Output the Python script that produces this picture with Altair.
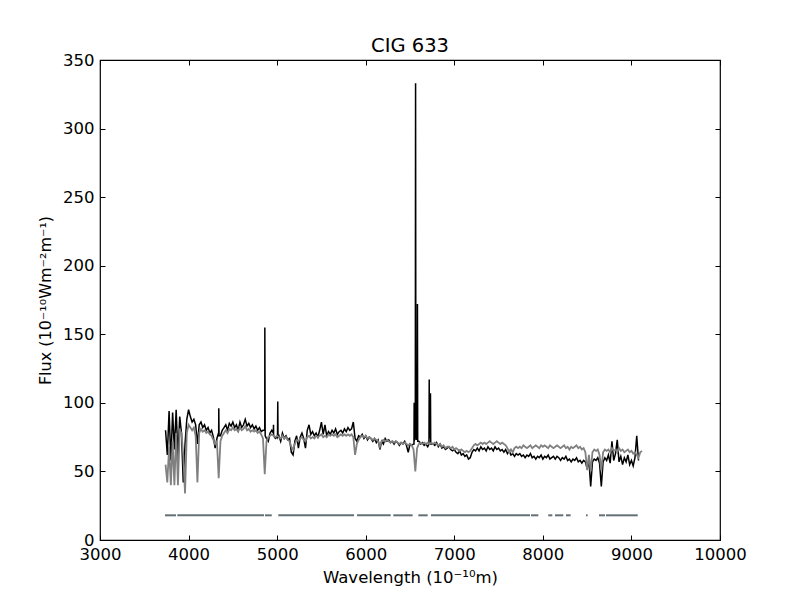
import altair as alt
import pandas as pd

TITLE = "CIG 633"
X_TITLE = "Wavelength (10⁻¹⁰m)"
Y_TITLE = "Flux (10⁻¹⁰Wm⁻²m⁻¹)"

# wavelength sampling of the two spectra (Angstrom)
OBS_START = 3740
MODEL_START = 3740
STEP = 20

obs_flux = [
    80, 62, 94, 58, 93, 66, 95, 60, 90, 78,
    42, 70, 88, 95, 90, 86, 88, 84, 70, 84,
    86, 82, 84, 80, 82, 78, 80, 75, 67, 74,
    78, 76, 80, 82, 84, 80, 85, 83, 86, 82,
    84, 80, 86, 82, 84, 88, 83, 85, 82, 84,
    81, 83, 80, 82, 79, 80, 80, 74, 72, 78,
    80, 78, 74, 75, 76, 72, 78, 74, 76, 73,
    74, 64, 62, 72, 76, 67, 75, 78, 74, 67,
    80, 84, 77, 79, 76, 78, 75, 80, 86, 77,
    84, 76, 79, 77, 80, 78, 81, 77, 79, 80,
    78, 81, 79, 82, 80, 81, 86, 74, 72, 76,
    75, 77, 74, 76, 73, 75, 74, 72, 74, 71,
    73, 66, 72, 70, 74, 72, 73, 71, 72, 70,
    72, 71, 69, 71, 70, 72, 69, 64, 70, 69,
    70, 100, 75, 72, 70, 71, 69, 70, 68, 105,
    70, 70, 69, 71, 68, 70, 67, 68, 66, 67,
    68, 66, 65, 66, 64, 63, 65, 62, 63, 61,
    62, 59, 60, 64, 66, 65, 67, 65, 68, 66,
    67, 65, 68, 66, 67, 65, 68, 66, 67, 65,
    66, 64, 66, 63, 65, 62, 63, 61, 63, 62,
    63, 61, 62, 60, 62, 61, 63, 60, 61, 59,
    61, 60, 62, 59, 61, 60, 62, 59, 60, 61,
    59, 61, 60, 58, 60, 59, 61, 58, 59, 57,
    59, 58, 60, 57, 58, 56, 58, 57, 52, 58,
    39, 57, 59, 58, 60, 56, 39, 57, 60, 58,
    62, 56, 72, 58, 63, 73, 57, 61, 55, 60,
    57, 62, 55, 58, 54, 60, 76, 58,
]

# narrow emission lines of the observed spectrum (Hgamma, Hbeta, [OIII], [NII], Halpha, [SII])
line_wave = [4338, 4341, 4344, 4857, 4861, 4865, 4957, 4959, 4961, 5004, 5007, 5010,
             6545, 6547, 6549, 6551, 6553, 6555, 6557, 6563, 6566, 6568, 6570, 6572,
             6574, 6576, 6578, 6582, 6584, 6587,
             6714, 6717, 6719, 6722, 6724, 6726, 6728, 6731, 6734]
line_flux = [78, 96, 76, 80, 155, 76, 78, 84, 76, 75, 101, 75,
             70, 100, 72, 100, 74, 100, 73, 333, 102, 75, 100, 74,
             100, 73, 100, 100, 172, 72,
             70, 117, 75, 75, 105, 74, 106, 107, 70]

# model spectrum (gray), 3740 .. 9120
model_flux = [
    55, 42, 68, 40, 72, 40, 78, 40, 80, 78,
    62, 34, 78, 84, 82, 80, 82, 76, 42, 78,
    81, 79, 80, 78, 79, 77, 76, 73, 70, 72,
    45, 72, 76, 78, 80, 78, 81, 80, 82, 80,
    81, 79, 82, 80, 81, 83, 80, 81, 79, 80,
    79, 80, 78, 79, 77, 74, 48, 72, 75, 76,
    77, 76, 75, 76, 75, 74, 76, 74, 75, 73,
    72, 68, 66, 70, 73, 72, 74, 75, 73, 72,
    75, 76, 74, 75, 74, 76, 75, 76, 77, 75,
    76, 75, 77, 76, 77, 76, 77, 75, 76, 77,
    76, 77, 76, 77, 76, 77, 75, 62, 70, 73,
    75, 76, 75, 76, 74, 75, 74, 73, 74, 73,
    72, 68, 72, 73, 72, 73, 72, 71, 72, 71,
    72, 71, 70, 71, 70, 71, 70, 69, 70, 69,
    66, 50, 67, 70, 71, 70, 71, 70, 71, 70,
    71, 70, 71, 70, 69, 70, 68, 69, 67, 68,
    68, 67, 68, 66, 67, 66, 65, 66, 65, 64,
    65, 64, 65, 67, 69, 70, 69, 70, 71, 70,
    71, 70, 71, 72, 71, 70, 71, 72, 71, 70,
    71, 70, 69, 67, 64, 66, 64, 67, 68, 67,
    68, 67, 69, 68, 67, 68, 69, 67, 68, 69,
    68, 67, 69, 68, 69, 68, 67, 69, 68, 67,
    68, 69, 68, 67, 68, 69, 67, 68, 66, 68,
    67, 68, 69, 67, 68, 66, 67, 64, 51, 62,
    50, 64, 66, 65, 66, 62, 51, 64, 66, 65,
    66, 64, 67, 65, 66, 64, 67, 65, 66, 64,
    65, 66, 64, 65, 63, 64, 62, 60, 64, 65,
]

# fitted-region mask segments (Angstrom) drawn at a constant flux level
mask_start = [3734, 3873, 4863, 5013, 5902, 6311, 6594, 6737, 7866, 8061, 8137, 8261, 8487, 8634, 8713]
mask_end = [3858, 4852, 4939, 5868, 6282, 6530, 6700, 7855, 7949, 8107, 8231, 8314, 8506, 8702, 9071]
MASK_LEVEL = 18

x_ticks = [3000, 4000, 5000, 6000, 7000, 8000, 9000, 10000]
y_ticks = [0, 50, 100, 150, 200, 250, 300, 350]

obs_grid = pd.DataFrame({"wave": [OBS_START + STEP * i for i in range(len(obs_flux))], "flux": obs_flux})
obs_lines = pd.DataFrame({"wave": line_wave, "flux": line_flux})
obs = pd.concat([obs_grid, obs_lines]).sort_values("wave").reset_index(drop=True)
model = pd.DataFrame({"wave": [MODEL_START + STEP * i for i in range(len(model_flux))], "flux": model_flux})
mask = pd.DataFrame({"start": mask_start, "end": mask_end, "level": [MASK_LEVEL] * len(mask_start)})

FONT = "DejaVu Sans"
xscale = alt.Scale(domain=[3000, 10000], nice=False, zero=False)
yscale = alt.Scale(domain=[0, 350], nice=False)


def tick_axis(orient, values):
    return alt.Axis(orient=orient, values=values, labels=False, domain=False, grid=False,
                    ticks=True, tickSize=5, tickColor="black", tickWidth=1, offset=-5, title=None)


main_x_axis = alt.Axis(orient="bottom", values=x_ticks, format="d", grid=False, domain=False,
                       ticks=False, tickSize=0,
                       labelPadding=6, labelFontSize=16.5, labelColor="black", labelFont=FONT,
                       labelFlush=False, labelOverlap=False,
                       title=X_TITLE, titleFont=FONT, titleFontSize=16.5, titleFontWeight="normal",
                       titleColor="black", titlePadding=7)
main_y_axis = alt.Axis(orient="left", values=y_ticks, format="d", grid=False, domain=False,
                       ticks=False, tickSize=0,
                       labelPadding=6, labelFontSize=16.5, labelColor="black", labelFont=FONT,
                       labelOverlap=False,
                       title=Y_TITLE, titleFont=FONT, titleFontSize=16, titleFontWeight="normal",
                       titleColor="black", titlePadding=9)

obs_line = alt.Chart(obs).mark_line(color="black", strokeWidth=1.5).encode(
    x=alt.X("wave:Q", scale=xscale, axis=main_x_axis),
    y=alt.Y("flux:Q", scale=yscale, axis=main_y_axis),
)
model_line = alt.Chart(model).mark_line(color="#808080", strokeWidth=1.8).encode(
    x=alt.X("wave:Q", scale=xscale, axis=tick_axis("bottom", x_ticks)),
    y=alt.Y("flux:Q", scale=yscale, axis=tick_axis("left", y_ticks)),
)
mask_rule = alt.Chart(mask).mark_rule(color="#647075", strokeWidth=2).encode(
    x=alt.X("start:Q", scale=xscale, axis=tick_axis("top", x_ticks)),
    x2="end:Q",
    y=alt.Y("level:Q", scale=yscale, axis=tick_axis("right", y_ticks)),
)

chart = alt.layer(obs_line, model_line, mask_rule).resolve_axis(
    x="independent", y="independent"
).properties(
    width=620,
    height=480,
    title=alt.TitleParams(TITLE, font=FONT, fontSize=19.5, fontWeight="normal", color="black",
                          frame="group", offset=7, dy=11),
    autosize=alt.AutoSizeParams(type="none"),
    padding={"left": 92, "top": 52, "right": 72, "bottom": 52},
    background="white",
).configure_view(stroke="black", strokeWidth=1.2)

chart.save("out.html", embed_options={"renderer": "svg", "actions": False})
